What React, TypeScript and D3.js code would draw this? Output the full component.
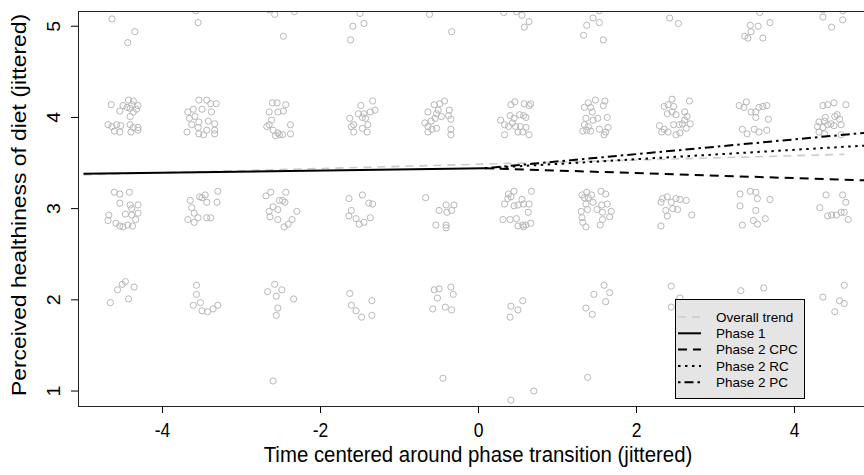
import React from "react";
import * as d3 from "d3";

const W = 864;
const H = 475;

// Jittered observations [time, healthiness]
const row5Points: [number, number][] = [
  [-4.64, 5.08], [-4.35, 4.94], [-4.44, 4.82],
  [-3.58, 5.17], [-3.55, 5.04],
  [-2.65, 5.18], [-2.58, 5.13], [-2.33, 5.16], [-2.47, 4.89],
  [-1.5, 5.14], [-1.59, 5.0], [-1.45, 5.03], [-1.62, 4.85],
  [-0.62, 5.13], [-0.34, 4.94],
  [0.32, 5.15], [0.48, 5.16], [0.55, 5.12], [0.64, 5.05], [0.58, 4.99],
  [1.53, 5.17], [1.45, 5.09], [1.53, 5.04], [1.37, 5.01], [1.33, 4.9], [1.58, 4.85],
  [2.42, 5.09], [2.53, 5.03],
  [3.56, 5.15], [3.69, 5.04], [3.54, 5.0], [3.44, 5.01], [3.45, 4.94], [3.37, 4.89], [3.41, 4.87], [3.6, 4.87],
  [4.36, 5.18], [4.61, 5.17], [4.36, 5.1], [4.61, 5.07], [4.47, 4.99],
];

const row4Points: [number, number][] = [
  [-4.65, 4.14], [-4.43, 4.19], [-4.37, 4.18], [-4.5, 4.13], [-4.45, 4.11], [-4.39, 4.14], [-4.31, 4.13],
  [-4.54, 4.07], [-4.41, 4.1], [-4.37, 4.06], [-4.33, 4.09], [-4.41, 4.01], [-4.69, 3.92], [-4.64, 3.9],
  [-4.58, 3.92], [-4.53, 3.91], [-4.61, 3.85], [-4.54, 3.84], [-4.41, 3.92], [-4.37, 3.89], [-4.31, 3.89],
  [-4.4, 3.84], [-4.31, 3.86],
  [-3.54, 4.19], [-3.44, 4.19], [-3.39, 4.15], [-3.32, 4.15], [-3.68, 4.06], [-3.61, 4.09], [-3.5, 4.09],
  [-3.38, 4.06], [-3.66, 3.99], [-3.59, 4.01], [-3.54, 3.95], [-3.42, 3.96], [-3.34, 3.93], [-3.63, 3.92],
  [-3.55, 3.89], [-3.44, 3.86], [-3.34, 3.86], [-3.69, 3.84], [-3.54, 3.82], [-3.48, 3.81], [-3.34, 3.82],
  [-2.61, 4.16], [-2.55, 4.16], [-2.44, 4.14], [-2.65, 4.06], [-2.54, 4.06], [-2.47, 4.07], [-2.62, 3.97],
  [-2.65, 3.92], [-2.68, 3.9], [-2.6, 3.86], [-2.54, 3.83], [-2.57, 3.8], [-2.52, 3.81], [-2.48, 3.81],
  [-2.38, 3.92], [-2.38, 3.82],
  [-1.34, 4.18], [-1.49, 4.13], [-1.31, 4.08], [-1.37, 4.06], [-1.52, 4.04], [-1.45, 4.04], [-1.43, 3.99],
  [-1.47, 4.0], [-1.63, 3.99], [-1.58, 3.92], [-1.61, 3.9], [-1.4, 3.92], [-1.47, 3.88], [-1.41, 3.84],
  [-1.58, 3.84],
  [-0.43, 4.18], [-0.49, 4.15], [-0.56, 4.14], [-0.51, 4.08], [-0.64, 4.06], [-0.53, 4.04], [-0.55, 3.99],
  [-0.37, 4.08], [-0.38, 4.02], [-0.35, 3.98], [-0.68, 3.94], [-0.6, 3.96], [-0.64, 3.9], [-0.59, 3.87],
  [-0.64, 3.84], [-0.53, 3.88], [-0.47, 4.01], [-0.35, 3.87], [-0.35, 3.81],
  [0.41, 4.14], [0.46, 4.17], [0.58, 4.15], [0.66, 4.15], [0.64, 4.13], [0.4, 4.02], [0.45, 3.99],
  [0.52, 4.03], [0.57, 4.02], [0.6, 4.0], [0.28, 3.97], [0.33, 3.92], [0.38, 3.9], [0.43, 3.94],
  [0.47, 3.9], [0.53, 3.9], [0.6, 3.89], [0.33, 3.81], [0.5, 3.84], [0.56, 3.84], [0.64, 3.81],
  [1.39, 4.16], [1.48, 4.19], [1.6, 4.18], [1.34, 4.11], [1.42, 4.11], [1.44, 4.06], [1.58, 4.13],
  [1.36, 3.99], [1.45, 3.97], [1.51, 3.99], [1.63, 4.0], [1.34, 3.92], [1.39, 3.9], [1.37, 3.86],
  [1.32, 3.85], [1.42, 3.85], [1.53, 3.87], [1.64, 3.89], [1.61, 3.84], [1.59, 3.81],
  [2.45, 4.2], [2.67, 4.18], [2.35, 4.12], [2.4, 4.14], [2.47, 4.12], [2.39, 4.04], [2.45, 4.06],
  [2.5, 4.03], [2.61, 4.06], [2.64, 4.01], [2.61, 3.97], [2.58, 3.93], [2.68, 3.93], [2.29, 3.91],
  [2.35, 3.87], [2.4, 3.84], [2.47, 3.92], [2.54, 3.92], [2.5, 3.81], [2.55, 3.83], [2.63, 3.88],
  [2.32, 3.84],
  [3.3, 4.13], [3.39, 4.17], [3.36, 4.11], [3.45, 4.06], [3.51, 4.06], [3.55, 4.11], [3.65, 4.13],
  [3.6, 4.12], [3.51, 4.0], [3.67, 3.98], [3.34, 3.87], [3.4, 3.82], [3.49, 3.87], [3.55, 3.84],
  [3.65, 3.86],
  [4.36, 4.13], [4.42, 4.14], [4.5, 4.16], [4.65, 4.14], [4.39, 4.0], [4.51, 4.01], [4.54, 4.03],
  [4.31, 3.95], [4.38, 3.96], [4.46, 3.93], [4.57, 3.98], [4.29, 3.9], [4.36, 3.89], [4.42, 3.92],
  [4.5, 3.91], [4.59, 3.92], [4.31, 3.84], [4.38, 3.82], [4.59, 3.81],
];

const row3Points: [number, number][] = [
  [-4.61, 3.18], [-4.54, 3.16], [-4.42, 3.18], [-4.54, 3.06], [-4.41, 3.04], [-4.31, 3.04], [-4.68, 2.93],
  [-4.69, 2.87], [-4.59, 2.84], [-4.54, 2.81], [-4.5, 2.8], [-4.44, 2.82], [-4.38, 2.81], [-4.47, 2.94],
  [-4.39, 2.93], [-4.31, 2.95], [-4.34, 2.88], [-4.39, 3.0],
  [-3.3, 3.19], [-3.53, 3.13], [-3.46, 3.15], [-3.44, 3.07], [-3.65, 3.09], [-3.63, 3.01], [-3.6, 2.95],
  [-3.55, 2.9], [-3.68, 2.88], [-3.6, 2.85], [-3.44, 2.9], [-3.39, 2.9], [-3.31, 3.07], [-3.5, 3.12],
  [-2.69, 3.14], [-2.63, 3.18], [-2.44, 3.18], [-2.52, 3.09], [-2.45, 3.07], [-2.6, 3.02], [-2.54, 2.99],
  [-2.65, 2.97], [-2.64, 2.91], [-2.54, 2.88], [-2.36, 2.88], [-2.3, 2.97], [-2.41, 2.83], [-2.46, 2.8],
  [-2.48, 3.09],
  [-1.64, 3.11], [-1.47, 3.15], [-1.39, 3.06], [-1.34, 3.05], [-1.61, 2.98], [-1.64, 2.92], [-1.55, 2.89],
  [-1.51, 2.83], [-1.45, 2.85], [-1.37, 2.9],
  [-0.67, 3.12], [-0.41, 3.04], [-0.31, 3.04], [-0.5, 2.98], [-0.4, 2.96], [-0.34, 2.98], [-0.54, 2.82],
  [-0.41, 2.82], [-0.41, 2.79],
  [0.38, 3.16], [0.45, 3.19], [0.67, 3.19], [0.41, 3.13], [0.37, 3.11], [0.55, 3.1], [0.33, 3.05],
  [0.45, 3.03], [0.5, 3.04], [0.57, 3.05], [0.64, 3.05], [0.63, 2.96], [0.31, 2.88], [0.4, 2.88],
  [0.48, 2.89], [0.5, 2.81], [0.56, 2.82], [0.6, 2.82], [0.66, 2.84], [0.57, 2.8],
  [1.31, 3.15], [1.37, 3.18], [1.43, 3.15], [1.55, 3.19], [1.61, 3.16], [1.34, 3.12], [1.39, 3.12],
  [1.36, 3.05], [1.45, 3.07], [1.56, 3.04], [1.63, 3.05], [1.3, 2.97], [1.38, 2.99], [1.5, 2.99],
  [1.57, 2.96], [1.68, 2.97], [1.31, 2.9], [1.57, 2.88], [1.66, 2.91], [1.32, 2.85], [1.36, 2.8],
  [1.54, 2.82],
  [2.33, 3.11], [2.39, 3.13], [2.44, 3.07], [2.5, 3.11], [2.55, 3.1], [2.63, 3.09], [2.31, 3.07],
  [2.37, 2.98], [2.46, 3.0], [2.52, 2.99], [2.39, 2.92], [2.7, 2.93], [2.31, 2.81],
  [3.31, 3.16], [3.44, 3.19], [3.51, 3.18], [3.53, 3.11], [3.69, 3.1], [3.31, 3.03], [3.51, 2.98],
  [3.63, 2.89], [3.48, 2.87], [3.53, 2.83], [3.34, 2.82],
  [4.4, 3.15], [4.61, 3.15], [4.65, 3.07], [4.32, 3.01], [4.42, 2.92], [4.47, 2.93], [4.53, 2.93],
  [4.59, 2.96], [4.68, 2.88], [4.63, 2.96],
];

const row2Points: [number, number][] = [
  [-4.47, 2.2], [-4.51, 2.17], [-4.57, 2.11], [-4.36, 2.14], [-4.66, 1.97], [-4.43, 2.01],
  [-3.57, 2.16], [-3.57, 2.06], [-3.52, 1.97], [-3.61, 1.94], [-3.5, 1.88], [-3.43, 1.87], [-3.36, 1.9],
  [-3.3, 1.94],
  [-2.58, 2.17], [-2.49, 2.11], [-2.67, 2.09], [-2.56, 2.04], [-2.34, 2.01], [-2.54, 1.91], [-2.56, 1.83],
  [-1.63, 2.07], [-1.61, 1.94], [-1.55, 1.88], [-1.48, 1.81], [-1.35, 1.99], [-1.35, 1.83],
  [-0.56, 2.11], [-0.5, 2.12], [-0.35, 2.14], [-0.52, 2.02], [-0.32, 2.06], [-0.58, 1.9], [-0.42, 1.92],
  [-0.34, 1.89],
  [0.56, 1.99], [0.5, 1.89], [0.41, 1.93], [0.4, 1.81],
  [1.59, 2.16], [1.66, 2.08], [1.46, 2.06], [1.61, 1.98], [1.36, 1.91], [1.44, 1.84],
  [2.44, 2.15], [2.55, 2.02], [2.44, 1.92],
  [3.32, 2.1], [3.61, 2.13],
  [4.63, 2.16], [4.36, 2.03], [4.57, 1.99], [4.63, 1.96], [4.51, 1.87],
];

const row1Points: [number, number][] = [
  [-2.6, 1.11], [-0.45, 1.14], [0.41, 0.9], [0.7, 1.0], [1.38, 1.15],
];

const allPoints = [...row5Points, ...row4Points, ...row3Points, ...row2Points, ...row1Points];

// Fitted trend lines: [time, predicted healthiness]
const overallTrend: [number, number][] = [[-5.0, 3.37], [4.63, 3.595]];
const phase1Line: [number, number][] = [[-5.0, 3.382], [0.08, 3.443]];
const phase2CPC: [number, number][] = [[0.08, 3.443], [5.06, 3.305]];
const phase2RC: [number, number][] = [[0.08, 3.443], [5.06, 3.70]];
const phase2PC: [number, number][] = [[0.08, 3.443], [5.06, 3.845]];

const xTicks = [-4, -2, 0, 2, 4];
const yTicks = [1, 2, 3, 4, 5];

const legendLabels = ["Overall trend", "Phase 1", "Phase 2 CPC", "Phase 2 RC", "Phase 2 PC"];

const FONT = "'Liberation Sans', Arial, Helvetica, sans-serif";

export default function App() {
  const left = 78;
  const right = 878;
  const top = 11;
  const bottom = 406;

  const x = d3.scaleLinear().domain([-5.07, 5.057]).range([left, right]);
  const y = d3.scaleLinear().domain([0.836, 5.167]).range([bottom, top]);

  const line = d3
    .line<[number, number]>()
    .x((d) => x(d[0]))
    .y((d) => y(d[1]));

  const lineStyles = [
    { data: overallTrend, stroke: "#cccccc", width: 1.6, dash: "8,6" },
    { data: phase1Line, stroke: "#000", width: 2, dash: "" },
    { data: phase2CPC, stroke: "#000", width: 2, dash: "9,6" },
    { data: phase2RC, stroke: "#000", width: 2, dash: "2.5,4.5" },
    { data: phase2PC, stroke: "#000", width: 2, dash: "2.5,4,9,4" },
  ];

  const lg = { x0: 675.5, y0: 299.5, x1: 804.5, y1: 398.5 };
  const rowH = 16.3;
  const firstRow = 317;
  const stretch = 1.12;

  return (
    <svg
      width={W}
      height={H}
      style={{ position: "fixed", left: 0, top: 0, display: "block", background: "#fff" }}
      fontFamily={FONT}
    >
      <defs>
        <clipPath id="plotclip">
          <rect x={left} y={top} width={right - left} height={bottom - top} />
        </clipPath>
      </defs>
      <rect x={0} y={0} width={W} height={H} fill="#fff" />

      {/* points */}
      <g clipPath="url(#plotclip)">
        {allPoints.map((p, i) => (
          <circle
            key={i}
            cx={x(p[0])}
            cy={y(p[1])}
            r={3.1}
            fill="none"
            stroke="#b8b8b8"
            strokeWidth={1}
          />
        ))}
      </g>

      {/* trend lines */}
      <g clipPath="url(#plotclip)">
        {lineStyles.map((l, i) => (
          <path
            key={i}
            d={line(l.data) || ""}
            fill="none"
            stroke={l.stroke}
            strokeWidth={l.width}
            strokeDasharray={l.dash || undefined}
          />
        ))}
      </g>

      {/* box */}
      <rect
        x={left + 0.5}
        y={top + 0.5}
        width={right - left}
        height={bottom - top}
        fill="none"
        stroke="#222"
        strokeWidth={1}
      />

      {/* x axis */}
      {xTicks.map((t) => (
        <g key={t}>
          <line x1={x(t)} x2={x(t)} y1={bottom} y2={bottom + 7} stroke="#000" strokeWidth={1} />
          <text
            transform={`translate(${x(t)},437) scale(1,${stretch})`}
            textAnchor="middle"
            fontSize={17.5}
            fill="#000"
          >
            {t}
          </text>
        </g>
      ))}

      {/* y axis */}
      {yTicks.map((t) => (
        <g key={t}>
          <line x1={left - 7} x2={left} y1={y(t)} y2={y(t)} stroke="#000" strokeWidth={1} />
          <text
            transform={`translate(60,${y(t)}) scale(1,${stretch}) rotate(-90)`}
            textAnchor="middle"
            fontSize={17.5}
            fill="#000"
          >
            {t}
          </text>
        </g>
      ))}

      <text
        transform={`translate(${(left + right) / 2},462) scale(1,${stretch})`}
        textAnchor="middle"
        fontSize={20.4}
        fill="#000"
      >
        Time centered around phase transition (jittered)
      </text>
      <text
        transform={`translate(26,205) scale(1,${stretch}) rotate(-90)`}
        textAnchor="middle"
        fontSize={20.4}
        fill="#000"
      >
        Perceived healthiness of diet (jittered)
      </text>

      {/* legend */}
      <rect
        x={lg.x0}
        y={lg.y0}
        width={lg.x1 - lg.x0}
        height={lg.y1 - lg.y0}
        fill="#e5e5e5"
        stroke="#000"
        strokeWidth={1}
      />
      {legendLabels.map((lab, i) => {
        const cy = firstRow + i * rowH;
        const st = lineStyles[i];
        return (
          <g key={lab}>
            <line
              x1={678}
              x2={701}
              y1={cy}
              y2={cy}
              stroke={st.stroke}
              strokeWidth={st.width}
              strokeDasharray={st.dash || undefined}
            />
            <text x={716} y={cy + 4.8} fontSize={13.5} fill="#000">
              {lab}
            </text>
          </g>
        );
      })}
    </svg>
  );
}
